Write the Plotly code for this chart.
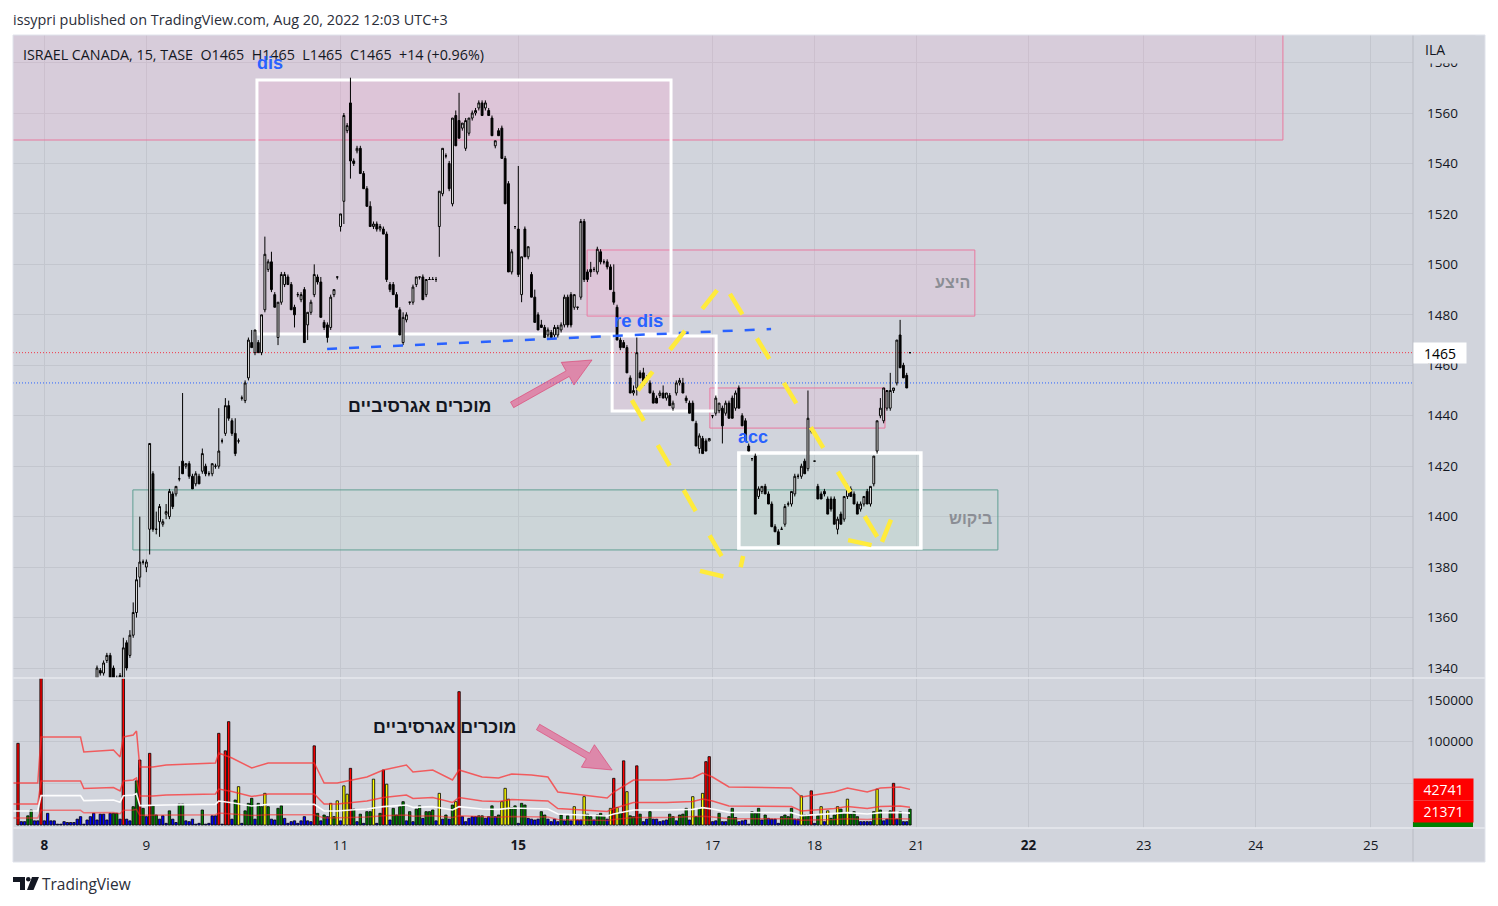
import plotly.graph_objects as go

# ---------------- ISRAEL CANADA (TASE), 15-minute bars ----------------
open_px = [
    1318, 1320, 1318, 1316, 1318, 1321, 1319, 1317, 1320, 1322, 1325, 1323,
    1325, 1328, 1326, 1328, 1330, 1328, 1327, 1330, 1332, 1330, 1332, 1331,
    1336, 1339, 1338, 1343, 1345, 1340, 1336, 1334, 1336, 1350, 1345, 1353,
    1362, 1376, 1382, 1380, 1395, 1417, 1395, 1398, 1397, 1401, 1400, 1409,
    1409, 1415, 1422, 1420, 1421, 1416, 1413, 1416, 1418, 1420, 1417, 1417,
    1420, 1420, 1430, 1433, 1444, 1438, 1433, 1430, 1447, 1446, 1455, 1469,
    1465, 1469, 1465, 1482, 1498, 1501, 1488, 1471, 1485, 1492, 1495, 1492,
    1483, 1488, 1486, 1490, 1476, 1481, 1488, 1495, 1493, 1477, 1476, 1475,
    1488, 1495, 1515, 1525, 1553, 1564, 1541, 1545, 1546, 1536, 1530, 1523,
    1515, 1516, 1514, 1514, 1512, 1492, 1492, 1488, 1482, 1469, 1478, 1485,
    1485, 1492, 1495, 1495, 1488, 1494, 1494, 1494, 1515, 1528, 1543, 1540,
    1524, 1559, 1557, 1554, 1546, 1552, 1558, 1560, 1562, 1564, 1562, 1561,
    1558, 1547, 1553, 1554, 1542, 1532, 1497, 1515, 1514, 1488, 1514, 1503,
    1496, 1487, 1480, 1476, 1475, 1472, 1473, 1472, 1472, 1474, 1476, 1487,
    1488, 1483, 1483, 1487, 1517, 1497, 1498, 1498, 1497, 1505, 1501, 1501,
    1499, 1489, 1483, 1470, 1469, 1467, 1455, 1449, 1451, 1457, 1457, 1455,
    1453, 1449, 1447, 1448, 1449, 1447, 1448, 1443, 1449, 1453, 1453, 1447,
    1445, 1445, 1437, 1427, 1431, 1430, 1430, 1440, 1441, 1442, 1443, 1441,
    1445, 1447, 1443, 1451, 1440, 1438, 1428, 1423, 1424, 1408, 1410, 1412,
    1409, 1405, 1396, 1394, 1395, 1397, 1405, 1405, 1409, 1416, 1416, 1422,
    1419, 1434, 1422, 1412, 1409, 1410, 1407, 1407, 1407, 1395, 1401, 1399,
    1408, 1411, 1409, 1405, 1403, 1405, 1410, 1405, 1413, 1426, 1440, 1438,
    1443, 1443, 1450, 1453, 1472, 1460, 1456, 1465,
]
high_px = [
    1321, 1322, 1320, 1319, 1322, 1323, 1320, 1321, 1324, 1326, 1327, 1326,
    1329, 1330, 1329, 1331, 1332, 1330, 1331, 1333, 1334, 1333, 1334, 1334,
    1341, 1340, 1343, 1346, 1346, 1341, 1337, 1338, 1352, 1351, 1355, 1366,
    1380, 1400, 1383, 1383, 1429, 1418, 1402, 1405, 1399, 1405, 1411, 1410,
    1412, 1420, 1449, 1421, 1422, 1417, 1418, 1417, 1427, 1421, 1418, 1421,
    1421, 1443, 1431, 1447, 1446, 1439, 1439, 1431, 1448, 1454, 1471, 1474,
    1474, 1470, 1480, 1511, 1502, 1505, 1489, 1485, 1497, 1497, 1496, 1493,
    1484, 1489, 1489, 1491, 1481, 1486, 1500, 1496, 1495, 1478, 1477, 1488,
    1490, 1495, 1520, 1560, 1556, 1574, 1542, 1547, 1547, 1537, 1531, 1525,
    1517, 1517, 1516, 1515, 1513, 1493, 1493, 1489, 1483, 1481, 1481, 1485,
    1492, 1495, 1495, 1496, 1494, 1495, 1495, 1495, 1529, 1546, 1544, 1541,
    1558, 1561, 1568, 1556, 1558, 1558, 1561, 1562, 1565, 1565, 1565, 1562,
    1559, 1549, 1554, 1555, 1543, 1533, 1506, 1515, 1539, 1503, 1515, 1507,
    1497, 1490, 1481, 1478, 1476, 1475, 1474, 1476, 1476, 1477, 1488, 1488,
    1489, 1488, 1483, 1518, 1518, 1498, 1501, 1499, 1507, 1506, 1502, 1502,
    1500, 1500, 1484, 1471, 1470, 1468, 1456, 1452, 1471, 1458, 1459, 1456,
    1454, 1450, 1448, 1450, 1452, 1449, 1449, 1446, 1454, 1455, 1455, 1448,
    1446, 1446, 1438, 1433, 1432, 1431, 1431, 1440, 1448, 1445, 1444, 1446,
    1446, 1448, 1450, 1452, 1441, 1439, 1429, 1423, 1425, 1412, 1412, 1413,
    1410, 1406, 1397, 1395, 1396, 1405, 1406, 1410, 1417, 1417, 1421, 1423,
    1450, 1435, 1422, 1413, 1410, 1411, 1408, 1408, 1408, 1400, 1402, 1408,
    1413, 1412, 1410, 1406, 1406, 1408, 1411, 1412, 1424, 1438, 1447, 1451,
    1450, 1457, 1451, 1470, 1478, 1461, 1457, 1465,
]
low_px = [
    1316, 1317, 1315, 1314, 1317, 1318, 1315, 1316, 1319, 1320, 1322, 1321,
    1324, 1325, 1324, 1326, 1327, 1325, 1326, 1328, 1329, 1328, 1330, 1329,
    1335, 1337, 1337, 1342, 1335, 1335, 1332, 1333, 1335, 1339, 1344, 1352,
    1360, 1372, 1381, 1378, 1385, 1394, 1393, 1392, 1396, 1399, 1399, 1403,
    1408, 1414, 1420, 1419, 1415, 1411, 1412, 1413, 1417, 1416, 1416, 1416,
    1419, 1419, 1429, 1432, 1438, 1432, 1424, 1429, 1446, 1445, 1454, 1467,
    1464, 1465, 1464, 1481, 1497, 1489, 1483, 1468, 1484, 1491, 1492, 1482,
    1475, 1487, 1485, 1469, 1470, 1480, 1487, 1492, 1479, 1474, 1469, 1474,
    1487, 1494, 1513, 1516, 1552, 1534, 1539, 1544, 1536, 1530, 1523, 1515,
    1514, 1513, 1513, 1512, 1493, 1489, 1488, 1483, 1472, 1468, 1477, 1484,
    1484, 1491, 1494, 1486, 1487, 1494, 1494, 1493, 1503, 1527, 1542, 1529,
    1523, 1547, 1550, 1553, 1545, 1551, 1557, 1559, 1561, 1559, 1561, 1559,
    1551, 1546, 1551, 1542, 1524, 1497, 1496, 1514, 1495, 1485, 1503, 1502,
    1487, 1477, 1474, 1475, 1471, 1471, 1471, 1471, 1471, 1473, 1475, 1475,
    1475, 1482, 1482, 1486, 1493, 1493, 1495, 1497, 1496, 1500, 1500, 1498,
    1490, 1484, 1470, 1466, 1467, 1457, 1449, 1448, 1448, 1455, 1452, 1453,
    1449, 1445, 1445, 1447, 1447, 1446, 1444, 1442, 1448, 1452, 1449, 1445,
    1441, 1438, 1428, 1425, 1425, 1426, 1430, 1439, 1440, 1441, 1429, 1440,
    1439, 1439, 1442, 1443, 1436, 1430, 1426, 1422, 1401, 1407, 1409, 1409,
    1405, 1396, 1394, 1389, 1395, 1396, 1404, 1404, 1408, 1415, 1415, 1417,
    1418, 1433, 1422, 1407, 1407, 1408, 1401, 1402, 1397, 1393, 1397, 1398,
    1407, 1408, 1405, 1401, 1402, 1404, 1405, 1404, 1412, 1425, 1439, 1437,
    1442, 1442, 1449, 1452, 1459, 1455, 1451, 1465,
]
close_px = [
    1320, 1318, 1316, 1318, 1321, 1319, 1317, 1320, 1323, 1325, 1323, 1325,
    1328, 1326, 1328, 1330, 1328, 1327, 1330, 1332, 1330, 1332, 1331, 1333,
    1340, 1338, 1342, 1345, 1336, 1336, 1334, 1337, 1348, 1340, 1353, 1362,
    1375, 1382, 1382, 1382, 1429, 1395, 1395, 1404, 1398, 1402, 1410, 1404,
    1412, 1415, 1417, 1421, 1416, 1411, 1417, 1413, 1425, 1417, 1417, 1421,
    1420, 1426, 1430, 1444, 1439, 1433, 1425, 1430, 1447, 1453, 1470, 1467,
    1474, 1465, 1480, 1504, 1501, 1490, 1483, 1485, 1496, 1496, 1492, 1482,
    1480, 1488, 1488, 1469, 1481, 1485, 1496, 1493, 1479, 1475, 1471, 1487,
    1490, 1495, 1520, 1559, 1555, 1541, 1540, 1546, 1536, 1530, 1523, 1515,
    1516, 1514, 1515, 1512, 1494, 1490, 1488, 1483, 1472, 1479, 1480, 1485,
    1491, 1495, 1495, 1486, 1494, 1494, 1494, 1494, 1529, 1546, 1543, 1530,
    1558, 1547, 1550, 1556, 1557, 1558, 1560, 1561, 1564, 1559, 1564, 1559,
    1551, 1549, 1551, 1542, 1524, 1497, 1505, 1515, 1496, 1503, 1503, 1507,
    1487, 1477, 1474, 1475, 1471, 1474, 1471, 1475, 1475, 1476, 1487, 1476,
    1476, 1488, 1483, 1517, 1494, 1494, 1497, 1498, 1506, 1501, 1501, 1499,
    1490, 1485, 1470, 1467, 1467, 1457, 1449, 1450, 1465, 1455, 1452, 1454,
    1449, 1445, 1445, 1449, 1447, 1449, 1444, 1445, 1453, 1454, 1449, 1446,
    1441, 1438, 1428, 1432, 1425, 1426, 1431, 1440, 1447, 1445, 1436, 1445,
    1439, 1439, 1449, 1443, 1436, 1430, 1426, 1423, 1401, 1411, 1412, 1409,
    1405, 1396, 1394, 1389, 1395, 1404, 1405, 1410, 1416, 1416, 1420, 1417,
    1439, 1434, 1422, 1407, 1407, 1409, 1401, 1403, 1397, 1399, 1397, 1408,
    1411, 1408, 1405, 1401, 1405, 1408, 1405, 1412, 1424, 1438, 1443, 1451,
    1450, 1450, 1451, 1470, 1459, 1455, 1451, 1465,
]
volume = [
    98000, 4000, 4000, 11000, 18000, 5000, 5000, 190000, 5000, 14000,
    5000, 5000, 1000, 1000, 4000, 3000, 3000, 3000, 7000, 10000,
    1000, 6000, 10000, 14000, 6000, 13000, 13000, 6000, 14000, 14000,
    14000, 7000, 190000, 7000, 5000, 22000, 53000, 78000, 20000, 10000,
    86000, 23000, 12000, 7000, 11000, 2000, 17000, 7000, 3000, 25000,
    25000, 5000, 4000, 7000, 1000, 2000, 18000, 1000, 2000, 11000,
    11000, 110000, 1000, 89000, 124000, 7000, 30000, 46000, 2000, 17000,
    26000, 32000, 7000, 26000, 22000, 38000, 22000, 7000, 6000, 20000,
    23000, 8000, 2000, 4000, 5000, 2000, 5000, 10000, 5000, 4000,
    95000, 14000, 5000, 12000, 10000, 26000, 10000, 29000, 5000, 47000,
    37000, 68000, 19000, 4000, 13000, 2000, 16000, 16000, 55000, 2000,
    14000, 66000, 49000, 6000, 20000, 12000, 22000, 28000, 5000, 16000,
    4000, 19000, 23000, 8000, 16000, 16000, 18000, 5000, 38000, 7000,
    12000, 7000, 24000, 28000, 160000, 10000, 4000, 8000, 10000, 10000,
    11000, 11000, 8000, 10000, 23000, 10000, 12000, 28000, 44000, 31000,
    21000, 23000, 2000, 26000, 24000, 8000, 7000, 6000, 7000, 16000,
    12000, 7000, 4000, 7000, 4000, 12000, 5000, 11000, 5000, 22000,
    6000, 6000, 34000, 13000, 10000, 6000, 12000, 14000, 11000, 7000,
    20000, 56000, 21000, 14000, 77000, 40000, 11000, 10000, 71000, 13000,
    4000, 7000, 16000, 7000, 7000, 4000, 5000, 6000, 13000, 10000,
    5000, 12000, 13000, 20000, 6000, 34000, 10000, 20000, 38000, 76000,
    82000, 4000, 5000, 14000, 4000, 4000, 10000, 20000, 9000, 4000,
    5000, 6000, 1000, 16000, 14000, 20000, 6000, 12000, 8000, 7000,
    7000, 2000, 10000, 12000, 10000, 20000, 7000, 7000, 35000, 12000,
    12000, 41000, 2000, 11000, 22000, 4000, 17000, 8000, 12000, 22000,
    19000, 14000, 31000, 13000, 16000, 10000, 4000, 4000, 4000, 4000,
    16000, 43000, 18000, 5000, 7000, 17000, 50000, 7000, 16000, 4000,
    4000, 19000,
]
# relative-volume class of each bar: R extreme, Y high, G normal, B low
vol_level = list(
    "RBBGGBBRBB" "BBBBBBBBBB" "BBBBBBBBBG" "GBRBBGGRGB" "RGGBBBGBBG"
    "GBBBBBGBBB" "BRBRRBGYBG" "GGBGGYGBBG" "GBBBBBBBBB" "RGBGBYGYBY"
    "YRGBGBGGYB" "GRYBGGGGBG" "BGGBGGGBYB" "GBGYRBBBBB" "GGBBGBGYYY"
    "GGBGGBBBBG" "GBBBBGBGBY" "BBYGGBGGGB" "YRYGRYGGRG" "BBGBBBBBGG"
    "BGGGBYGGYR" "RBBGBBGGGB" "BBBGGGBGBB" "BBGGGGBBYG" "GRBGYBYGGY"
    "GGYGGGBBBB" "GYGBBGRBGB" "BG"
)
# volume average (vertices at bar positions)
ma_bar = [-2, 6, 7, 19, 20, 29, 31, 32, 35, 36, 37, 41, 45, 60, 61, 65, 71, 76,
          90, 93, 97, 101, 106, 111, 118, 120, 126, 132, 134, 141, 146, 150, 156,
          161, 164, 179, 181, 187, 197, 205, 208, 211, 216, 235, 238, 248, 252,
          258, 262, 268, 271]
ma_vol = [16800, 16800, 35200, 35200, 29200, 30000, 27200, 35200, 36000, 37600,
          23200, 23200, 24000, 24800, 28800, 26800, 22800, 24800, 24800, 16800,
          16800, 18000, 19200, 22000, 24000, 21200, 22000, 18000, 22000, 19200,
          18800, 20400, 20000, 19200, 13200, 10800, 13200, 18000, 18000, 18800,
          20800, 19200, 15200, 14800, 11200, 13200, 14800, 13200, 14800, 15200,
          14247]
band_mult = [3.0, 1.5, 0.5]

# session starts used as time-axis ticks
day_bar = [8, 39, 98, 152, 211, 242, 273, 307, 342, 376, 411]
day_label = ["<b>8</b>", "9", "11", "<b>15</b>", "17", "18", "21", "<b>22</b>", "23", "24", "25"]
price_ticks = list(range(1340, 1600, 20))
vol_ticks = [50000, 100000, 150000]

last_price = 1465
ref_price = 1453

# ---------------- geometry ----------------
W, H = 1498, 906
PL, PR, PT, PB = 13, 1413, 35, 828          # plot area in pixels
SPLIT = 678                                   # pane separator
X_RANGE = [-1.52, 423.82]
P_RANGE = [1336.04, 1590.92]
V_RANGE = [-3600, 176400]
P_DOM = [(PB - SPLIT) / (PB - PT), 1.0]
V_DOM = [0.0, (PB - SPLIT) / (PB - PT)]

BG = "#d1d4dc"
GRID = "#c3c6ce"
TXT = "#131722"
BLUE = "#2962ff"
PINK_FILL = "rgba(255,160,205,0.15)"
PINK_LINE = "#e8789e"
GREEN_FILL = "rgba(170,225,185,0.10)"
GREEN_LINE = "#5f9f92"
YELLOW = "#ffeb3b"
VCOL = {"R": "#ff0000", "Y": "#ffff00", "G": "#008000", "B": "#0000ff"}


def px_x(i):
    return PL + (i - X_RANGE[0]) / (X_RANGE[1] - X_RANGE[0]) * (PR - PL)


def px_price(p):
    return PT + (P_RANGE[1] - p) / (P_RANGE[1] - P_RANGE[0]) * (SPLIT - PT)


def px_vol(v):
    return SPLIT + (V_RANGE[1] - v) / (V_RANGE[1] - V_RANGE[0]) * (PB - SPLIT)


def paper_x(px):
    return (px - PL) / (PR - PL)


def paper_y(py):
    return (PB - py) / (PB - PT)


def tag(v):
    return str(int(v + 0.5))


x = list(range(len(close_px)))

fig = go.Figure()

fig.add_trace(go.Candlestick(
    x=x, open=open_px, high=high_px, low=low_px, close=close_px,
    xaxis="x", yaxis="y",
    increasing=dict(fillcolor="#ffffff", line=dict(color="#000000", width=1)),
    decreasing=dict(fillcolor="#000000", line=dict(color="#000000", width=1)),
    whiskerwidth=0, hoverinfo="skip", showlegend=False,
))

fig.add_trace(go.Bar(
    x=x, y=volume, xaxis="x", yaxis="y2", width=0.72,
    marker=dict(color=[VCOL[k] for k in vol_level], line=dict(color="#000000", width=0.8)),
    hoverinfo="skip", showlegend=False,
))

band_style = [("rgba(255,40,40,0.7)", 1.5), ("rgba(255,40,40,0.7)", 1.5), ("rgba(255,40,40,0.55)", 1.5)]
for m, (col, wd) in zip(band_mult, band_style):
    fig.add_trace(go.Scatter(x=ma_bar, y=[v * m for v in ma_vol], xaxis="x", yaxis="y2",
                             mode="lines", line=dict(color=col, width=wd),
                             hoverinfo="skip", showlegend=False))
fig.add_trace(go.Scatter(x=ma_bar, y=ma_vol, xaxis="x", yaxis="y2", mode="lines",
                         line=dict(color="rgba(255,255,255,0.95)", width=1.6),
                         hoverinfo="skip", showlegend=False))

shapes = []
# chart canvas incl. axis strips
shapes.append(dict(type="rect", xref="paper", yref="paper", x0=0, x1=paper_x(1485),
                   y0=paper_y(862), y1=paper_y(PT), fillcolor=BG, line=dict(width=0), layer="below"))
shapes.append(dict(type="line", xref="paper", yref="paper", x0=1, x1=1,
                   y0=paper_y(862), y1=paper_y(PT), line=dict(color="#b8bbc3", width=1)))
shapes.append(dict(type="line", xref="paper", yref="paper", x0=0, x1=paper_x(1485),
                   y0=paper_y(SPLIT), y1=paper_y(SPLIT), line=dict(color="#e6e8ee", width=1.5)))
shapes.append(dict(type="line", xref="paper", yref="paper", x0=0, x1=paper_x(1485),
                   y0=0, y1=0, line=dict(color="#e6e8ee", width=1.5)))
shapes.append(dict(type="rect", xref="paper", yref="paper", x0=0, x1=paper_x(1485),
                   y0=paper_y(862), y1=paper_y(PT), line=dict(color="#e0e3eb", width=1)))


def box(x0, x1, y0, y1, fill, line_col, lw, layer="between"):
    shapes.append(dict(type="rect", xref="x", yref="y", x0=x0, x1=x1, y0=y0, y1=y1,
                       fillcolor=fill, line=dict(color=line_col, width=lw), layer=layer))


# supply / demand zones and range boxes (bar index, price)
box(-6, 384.3, 1549.3, 1600, PINK_FILL, PINK_LINE, 1)
box(34.9, 297.7, 1386.8, 1410.6, GREEN_FILL, GREEN_LINE, 1)
box(172.9, 290.7, 1479.5, 1505.7, PINK_FILL, PINK_LINE, 1)
box(210.2, 263.4, 1435.1, 1451.0, PINK_FILL, PINK_LINE, 1)
box(72.6, 198.4, 1472.4, 1573.1, PINK_FILL, "#ffffff", 3)
box(180.5, 212.1, 1441.9, 1471.6, PINK_FILL, "#ffffff", 3)
box(219.0, 274.3, 1387.6, 1425.2, GREEN_FILL, "#ffffff", 3.5)

# last price / reference dotted lines
shapes.append(dict(type="line", xref="x", yref="y", x0=X_RANGE[0], x1=X_RANGE[1], y0=last_price,
                   y1=last_price, line=dict(color="#f23645", width=1, dash="1px,2px"), layer="between"))
shapes.append(dict(type="line", xref="x", yref="y", x0=X_RANGE[0], x1=X_RANGE[1], y0=ref_price,
                   y1=ref_price, line=dict(color=BLUE, width=1, dash="1px,2px"), layer="between"))

# neckline
shapes.append(dict(type="line", xref="x", yref="y", x0=93.9, x1=228.8, y0=1466.5, y1=1474.4,
                   line=dict(color=BLUE, width=2.5, dash="10px,12px"), layer="above"))

# yellow dashed curve strokes
yellow_paths = [
    [(212.4, 1489.8), (186.5, 1447.0)],
    [(186.5, 1446.2), (214.8, 1382.0)],
    [(207.2, 1378.5), (218.7, 1374.9), (220.3, 1384.4)],
    [(216.3, 1488.3), (263.1, 1387.6)],
    [(252.2, 1390.7), (260.4, 1388.4)],
    [(262.5, 1390.0), (265.8, 1400.7)],
]
for pts in yellow_paths:
    d = "M " + " L ".join(f"{a},{b}" for a, b in pts)
    shapes.append(dict(type="path", xref="x", yref="y", path=d,
                       line=dict(color=YELLOW, width=4.5, dash="24px,28px"), layer="above"))


def arrow(tail, tip, pane, shaft=3.2, head_w=13, head_l=28):
    fy = px_price if pane == "p" else px_vol
    x0, y0 = px_x(tail[0]), fy(tail[1])
    x1, y1 = px_x(tip[0]), fy(tip[1])
    dx, dy = x1 - x0, y1 - y0
    ln = (dx * dx + dy * dy) ** 0.5
    ux, uy = dx / ln, dy / ln
    nx, ny = -uy, ux
    bx, by = x1 - ux * head_l, y1 - uy * head_l
    pts = [(x0 + nx * shaft, y0 + ny * shaft), (bx + nx * shaft, by + ny * shaft),
           (bx + nx * head_w, by + ny * head_w), (x1, y1),
           (bx - nx * head_w, by - ny * head_w), (bx - nx * shaft, by - ny * shaft),
           (x0 - nx * shaft, y0 - ny * shaft)]
    d = "M " + " L ".join(f"{paper_x(a):.5f},{paper_y(b):.5f}" for a, b in pts) + " Z"
    shapes.append(dict(type="path", xref="paper", yref="paper", path=d,
                       fillcolor="rgba(233,60,120,0.5)", line=dict(color="rgba(220,60,110,0.6)", width=1),
                       layer="above"))


arrow((150.1, 1444.3), (174.4, 1462.1), "p")
arrow((158.0, 117600), (180.5, 66000), "v")

# volume-axis value tags strip
shapes.append(dict(type="rect", xref="paper", yref="paper", x0=1, x1=paper_x(1473),
                   y0=paper_y(827), y1=paper_y(822), fillcolor="#008000", line=dict(width=0)))

# TradingView logo mark
shapes.append(dict(type="path", xref="paper", yref="paper",
                   path="M {},{} L {},{} L {},{} L {},{} L {},{} L {},{} Z".format(
                       paper_x(13), paper_y(877), paper_x(25), paper_y(877), paper_x(25), paper_y(890),
                       paper_x(20), paper_y(890), paper_x(20), paper_y(882), paper_x(13), paper_y(882)),
                   fillcolor="#131722", line=dict(width=0)))
shapes.append(dict(type="circle", xref="paper", yref="paper", x0=paper_x(26), x1=paper_x(30.5),
                   y0=paper_y(881.5), y1=paper_y(877), fillcolor="#131722", line=dict(width=0)))
shapes.append(dict(type="path", xref="paper", yref="paper",
                   path="M {},{} L {},{} L {},{} L {},{} Z".format(
                       paper_x(32), paper_y(877), paper_x(39), paper_y(877), paper_x(33.5), paper_y(890),
                       paper_x(27), paper_y(890)),
                   fillcolor="#131722", line=dict(width=0)))

FONT = "Open Sans, Noto Sans, sans-serif"
HEB = "Liberation Sans, DejaVu Sans, sans-serif"

ann = []
ann.append(dict(xref="paper", yref="paper", x=paper_x(11), y=paper_y(19), xanchor="left", yanchor="middle",
                text="issypri published on TradingView.com, Aug 20, 2022 12:03 UTC+3", showarrow=False,
                font=dict(family=FONT, size=14.4, color="#2a2e39")))
ann.append(dict(xref="paper", yref="paper", x=paper_x(21), y=paper_y(54), xanchor="left", yanchor="middle",
                text="ISRAEL CANADA, 15, TASE  O1465  H1465  L1465  C1465  +14 (+0.96%)", showarrow=False,
                font=dict(family=FONT, size=14.3, color=TXT)))
ann.append(dict(xref="paper", yref="paper", x=paper_x(1420), y=paper_y(49), xanchor="left", yanchor="middle",
                text="ILA&nbsp;&nbsp;&nbsp;&nbsp;&nbsp;&nbsp;&nbsp;", showarrow=False, bgcolor=BG, borderpad=4,
                font=dict(family=FONT, size=14, color=TXT)))
ann.append(dict(xref="paper", yref="paper", x=1, y=paper_y(px_price(last_price)), xanchor="left",
                yanchor="middle", text=str(last_price), showarrow=False, bgcolor="#ffffff", width=50,
                height=18, borderpad=1, font=dict(family=FONT, size=14, color="#000000")))
ann.append(dict(xref="paper", yref="paper", x=1, y=paper_y(px_vol(ma_vol[-1] * band_mult[0])),
                xanchor="left", yanchor="middle", text=tag(ma_vol[-1] * band_mult[0]), showarrow=False,
                bgcolor="#ff0000", width=57, height=19, borderpad=1,
                font=dict(family=FONT, size=14, color="#ffffff")))
ann.append(dict(xref="paper", yref="paper", x=1, y=paper_y(px_vol(ma_vol[-1] * band_mult[1]) + 4),
                xanchor="left", yanchor="middle", text=tag(ma_vol[-1] * band_mult[1]), showarrow=False,
                bgcolor="#ff0000", width=57, height=19, borderpad=1,
                font=dict(family=FONT, size=14, color="#ffffff")))

# chart notes
ann.append(dict(xref="x", yref="y", x=76.6, y=1579.8, text="<b>dis</b>", showarrow=False,
                font=dict(family=HEB, size=18, color=BLUE)))
ann.append(dict(xref="x", yref="y", x=188.4, y=1477.9, text="<b>re dis</b>", showarrow=False,
                font=dict(family=HEB, size=18.5, color=BLUE)))
ann.append(dict(xref="x", yref="y", x=223.3, y=1431.6, text="<b>acc</b>", showarrow=False,
                font=dict(family=HEB, size=18, color=BLUE)))
ann.append(dict(xref="x", yref="y", x=283.8, y=1493.0, text="<b>היצע</b>", showarrow=False,
                font=dict(family=HEB, size=16, color="#8b8e95")))
ann.append(dict(xref="x", yref="y", x=289.5, y=1399.1, text="<b>ביקוש</b>", showarrow=False,
                font=dict(family=HEB, size=16, color="#8b8e95")))
ann.append(dict(xref="x", yref="y", x=122.1, y=1443.9, text="<b>מוכרים אגרסיביים</b>", showarrow=False,
                font=dict(family=HEB, size=17.8, color=TXT)))
ann.append(dict(xref="x", yref="y2", x=129.7, y=117600, text="<b>מוכרים אגרסיביים</b>", showarrow=False,
                font=dict(family=HEB, size=17.8, color=TXT)))
ann.append(dict(xref="paper", yref="paper", x=paper_x(40), y=paper_y(884), xanchor="left", yanchor="middle",
                text="TradingView", showarrow=False, font=dict(family=FONT, size=15.5, color="#2a2e39")))

axis_font = dict(family=FONT, size=13.5, color=TXT)
fig.update_layout(
    width=W, height=H,
    margin=dict(l=PL, r=W - PR, t=PT, b=H - PB),
    paper_bgcolor="#ffffff", plot_bgcolor=BG,
    showlegend=False, hovermode=False, boxgap=0.2,
    xaxis=dict(range=X_RANGE, anchor="y2", tickvals=day_bar, ticktext=day_label, showgrid=True,
               gridcolor=GRID, gridwidth=1, zeroline=False, showline=False, ticks="",
               tickfont=axis_font, ticklabelstandoff=7, rangeslider=dict(visible=False), fixedrange=True),
    yaxis=dict(domain=P_DOM, range=P_RANGE, side="right", tickvals=price_ticks,
               ticktext=[str(v) for v in price_ticks], showgrid=True, gridcolor=GRID, zeroline=False,
               showline=False, ticks="", tickfont=axis_font, ticklabelstandoff=13, fixedrange=True),
    yaxis2=dict(domain=V_DOM, range=V_RANGE, side="right", tickvals=vol_ticks,
                ticktext=[str(v) for v in vol_ticks], showgrid=True, gridcolor=GRID, zeroline=False,
                showline=False, ticks="", tickfont=axis_font, ticklabelstandoff=13, fixedrange=True),
    shapes=shapes, annotations=ann,
)

fig.write_html("out.html")
